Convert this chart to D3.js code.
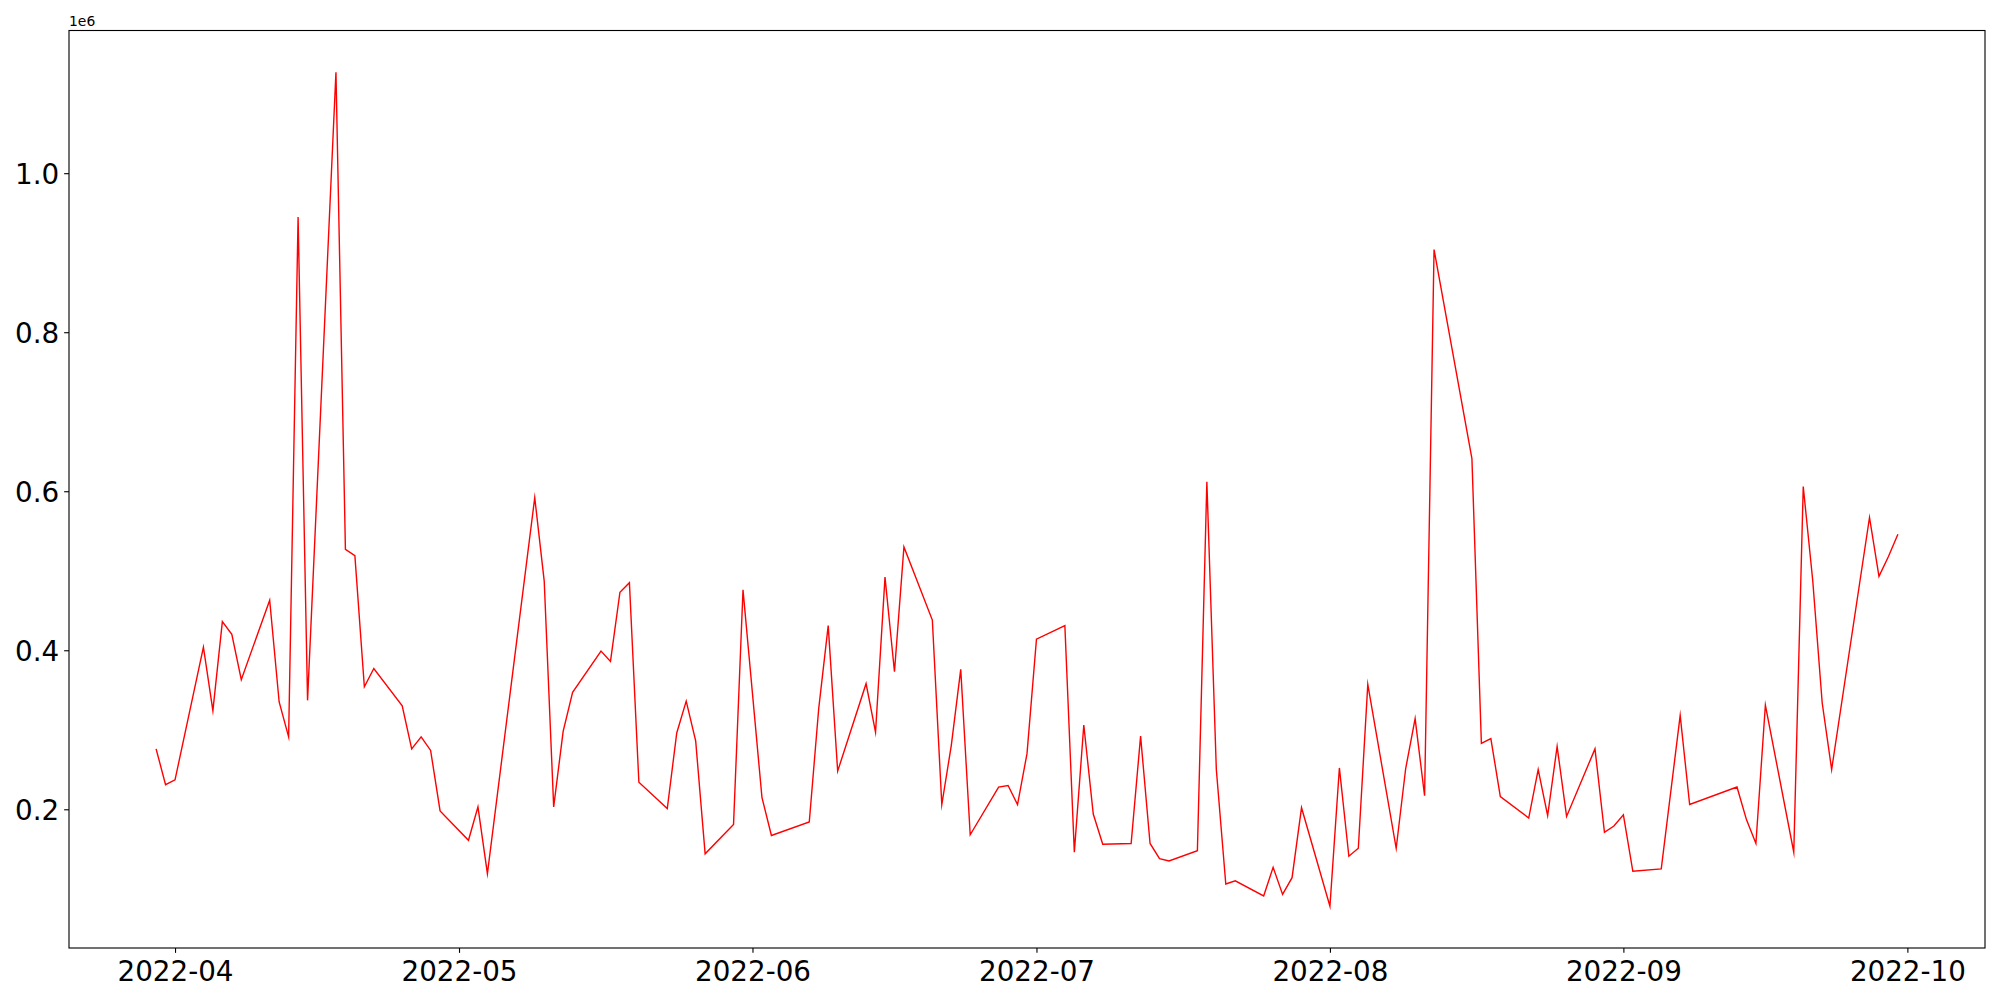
<!DOCTYPE html>
<html>
<head>
<meta charset="utf-8">
<script src="https://cdn.jsdelivr.net/npm/d3@7"></script>
<style>
  html, body { margin: 0; padding: 0; background: #fff; }
  svg { display: block; }
  text { font-family: "DejaVu Sans", sans-serif; fill: #000; }
</style>
</head>
<body>
<svg id="chart" width="2000" height="1000"></svg>
<script>
// ---- data ----
const dates = [
  "2022-03-30","2022-03-31","2022-04-01","2022-04-04","2022-04-05","2022-04-06","2022-04-07","2022-04-08",
  "2022-04-11","2022-04-12","2022-04-13","2022-04-14","2022-04-15","2022-04-18","2022-04-19","2022-04-20",
  "2022-04-21","2022-04-22","2022-04-25","2022-04-26","2022-04-27","2022-04-28","2022-04-29","2022-05-02",
  "2022-05-03","2022-05-04","2022-05-09","2022-05-10","2022-05-11","2022-05-12","2022-05-13","2022-05-16",
  "2022-05-17","2022-05-18","2022-05-19","2022-05-20","2022-05-23","2022-05-24","2022-05-25","2022-05-26",
  "2022-05-27","2022-05-30","2022-05-31","2022-06-02","2022-06-03","2022-06-07","2022-06-08","2022-06-09",
  "2022-06-10","2022-06-13","2022-06-14","2022-06-15","2022-06-16","2022-06-17","2022-06-20","2022-06-21",
  "2022-06-22","2022-06-23","2022-06-24","2022-06-27","2022-06-28","2022-06-29","2022-06-30","2022-07-01",
  "2022-07-04","2022-07-05","2022-07-06","2022-07-07","2022-07-08","2022-07-11","2022-07-12","2022-07-13",
  "2022-07-14","2022-07-15","2022-07-18","2022-07-19","2022-07-20","2022-07-21","2022-07-22","2022-07-25",
  "2022-07-26","2022-07-27","2022-07-28","2022-07-29","2022-08-01","2022-08-02","2022-08-03","2022-08-04",
  "2022-08-05","2022-08-08","2022-08-09","2022-08-10","2022-08-11","2022-08-12","2022-08-16","2022-08-17",
  "2022-08-18","2022-08-19","2022-08-22","2022-08-23","2022-08-24","2022-08-25","2022-08-26","2022-08-29",
  "2022-08-30","2022-08-31","2022-09-01","2022-09-02","2022-09-05","2022-09-07","2022-09-08","2022-09-13",
  "2022-09-14","2022-09-15","2022-09-16","2022-09-19","2022-09-20","2022-09-21","2022-09-22","2022-09-23",
  "2022-09-27","2022-09-28","2022-09-29","2022-09-30"
];
const values = [
  276000, 231000, 237000, 404000, 324000, 436000, 420000, 363000,
  463000, 335000, 291000, 945000, 337000, 1127000, 527000, 519000,
  354000, 377000, 330000, 276000, 291000, 274000, 198000, 161000,
  203000, 119000, 592000, 487000, 203000, 298000, 347000, 399000,
  386000, 473000, 485000, 234000, 201000, 296000, 336000, 286000,
  144000, 181000, 476000, 215000, 167000, 184000, 327000, 431000,
  248000, 358000, 297000, 492000, 373000, 530000, 438000, 206000,
  280000, 376000, 168000, 228000, 230000, 206000, 270000, 414000,
  431000, 146000, 306000, 194000, 156000, 157000, 292000, 157000,
  138000, 135000, 148000, 612000, 250000, 106000, 110000, 91000,
  127000, 93000, 114000, 202000, 78000, 252000, 141000, 151000,
  357000, 151000, 251000, 314000, 217000, 904000, 641000, 283000,
  289000, 216000, 189000, 250000, 192000, 279000, 191000, 276000,
  171000, 179000, 193000, 122000, 125000, 318000, 206000, 228000,
  187000, 157000, 331000, 146000, 606000, 488000, 334000, 250000,
  567000, 493000, 518000, 546000
];
const yTickValues = [200000, 400000, 600000, 800000, 1000000];
const yTickLabels = ["0.2", "0.4", "0.6", "0.8", "1.0"];
const xTickDates = ["2022-04-01","2022-05-01","2022-06-01","2022-07-01","2022-08-01","2022-09-01","2022-10-01"];
const offsetLabel = "1e6";

// ---- layout ----
const parse = d3.utcParse("%Y-%m-%d");
const data = dates.map((d, i) => ({ date: parse(d), value: values[i] }));

const plotLeft = 69, plotRight = 1985, plotTop = 30.5, plotBottom = 948;
const svg = d3.select("#chart");

const xExt = d3.extent(data, d => d.date);
const xPad = (xExt[1] - xExt[0]) * 0.05;
const x = d3.scaleUtc()
  .domain([new Date(+xExt[0] - xPad), new Date(+xExt[1] + xPad)])
  .range([plotLeft, plotRight]);

const yExt = d3.extent(data, d => d.value);
const yPad = (yExt[1] - yExt[0]) * 0.05;
const y = d3.scaleLinear()
  .domain([yExt[0] - yPad, yExt[1] + yPad])
  .range([plotBottom, plotTop]);

const tickLen = 4.86, tickPad = 4.86, fontSize = 27.78;

// line
const line = d3.line().x(d => x(d.date)).y(d => y(d.value));
svg.append("path")
  .datum(data)
  .attr("d", line)
  .attr("fill", "none")
  .attr("stroke", "#ff0000")
  .attr("stroke-width", 1.4)
  .attr("stroke-linejoin", "miter")
  .attr("stroke-miterlimit", 10);

// x axis
const xAxis = d3.axisBottom(x)
  .tickValues(xTickDates.map(parse))
  .tickFormat(d3.utcFormat("%Y-%m"))
  .tickSize(tickLen)
  .tickPadding(tickPad);
const gx = svg.append("g").attr("transform", `translate(0,${plotBottom})`).call(xAxis);
gx.select(".domain").remove();
gx.selectAll(".tick line").attr("stroke", "#000").attr("stroke-width", 1.11);
gx.selectAll(".tick text")
  .attr("font-size", fontSize)
  .attr("font-family", "DejaVu Sans")
  .attr("dy", null)
  .attr("y", 981 - plotBottom)
  .attr("dominant-baseline", "alphabetic");

// y axis
const yAxis = d3.axisLeft(y)
  .tickValues(yTickValues)
  .tickFormat((d, i) => yTickLabels[i])
  .tickSize(tickLen)
  .tickPadding(tickPad);
const gy = svg.append("g").attr("transform", `translate(${plotLeft},0)`).call(yAxis);
gy.select(".domain").remove();
gy.selectAll(".tick line").attr("stroke", "#000").attr("stroke-width", 1.11);
gy.selectAll(".tick text")
  .attr("font-size", fontSize)
  .attr("font-family", "DejaVu Sans")
  .attr("dy", "0.36em");

// offset label
svg.append("text")
  .attr("x", plotLeft)
  .attr("y", 26)
  .attr("font-size", 13.9)
  .text(offsetLabel);

// spines
svg.append("rect")
  .attr("x", plotLeft).attr("y", plotTop)
  .attr("width", plotRight - plotLeft).attr("height", plotBottom - plotTop)
  .attr("fill", "none")
  .attr("stroke", "#000")
  .attr("stroke-width", 1.11);
</script>
</body>
</html>
